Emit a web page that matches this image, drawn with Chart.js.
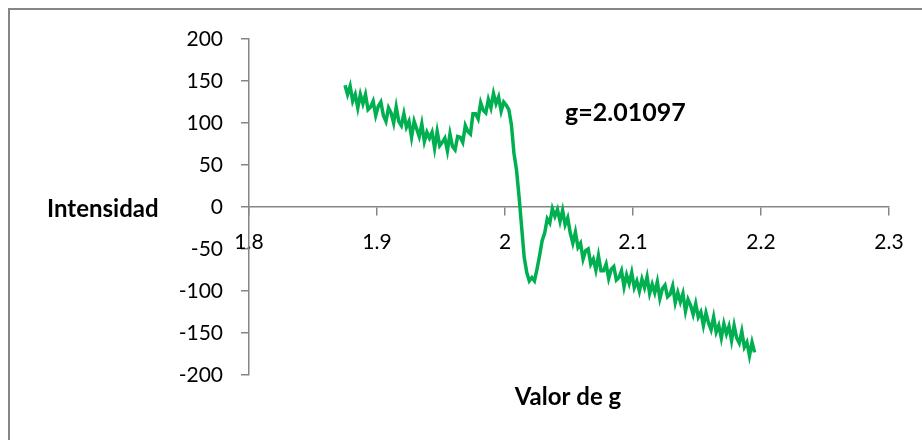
<!DOCTYPE html>
<html>
<head>
<meta charset="utf-8">
<script src="https://cdn.jsdelivr.net/npm/chart.js@4/dist/chart.umd.min.js"></script>
<style>
  html, body { margin: 0; padding: 0; background: #fff; }
  #wrap { position: relative; width: 922px; height: 440px; overflow: hidden; }
  canvas { display: block; }
</style>
</head>
<body>
<div id="wrap"><canvas id="c" width="922" height="440"></canvas></div>
<script>
// g values (x) and intensity (y)
const G_VALUES = [
  1.875, 1.877, 1.879, 1.881, 1.883, 1.885, 1.887, 1.889, 1.891, 1.893,
  1.895, 1.897, 1.899, 1.901, 1.903, 1.905, 1.907, 1.909, 1.911, 1.913,
  1.915, 1.917, 1.919, 1.921, 1.923, 1.925, 1.927, 1.929, 1.931, 1.933,
  1.935, 1.937, 1.939, 1.941, 1.943, 1.945, 1.947, 1.949, 1.951, 1.953,
  1.955, 1.957, 1.959, 1.961, 1.963, 1.965, 1.967, 1.969, 1.971, 1.973,
  1.975, 1.977, 1.979, 1.981, 1.983, 1.985, 1.987, 1.989, 1.991, 1.993,
  1.995, 1.997, 1.999,
  2.001, 2.003, 2.005, 2.007, 2.009, 2.011, 2.013, 2.015, 2.017, 2.019,
  2.021, 2.023, 2.025, 2.027, 2.029, 2.031,
  2.033, 2.035, 2.037, 2.039, 2.041, 2.043, 2.045, 2.047, 2.049, 2.051,
  2.053, 2.055, 2.057, 2.059, 2.061, 2.063, 2.065, 2.067, 2.069, 2.071,
  2.073, 2.075, 2.077, 2.079, 2.081, 2.083, 2.085, 2.087, 2.089, 2.091,
  2.093, 2.095, 2.097, 2.099, 2.101, 2.103, 2.105, 2.107, 2.109, 2.111,
  2.113, 2.115, 2.117, 2.119, 2.121, 2.123, 2.125, 2.127, 2.129, 2.131,
  2.133, 2.135, 2.137, 2.139, 2.141, 2.143, 2.145, 2.147, 2.149, 2.151,
  2.153, 2.155, 2.157, 2.159, 2.161, 2.163, 2.165, 2.167, 2.169, 2.171,
  2.173, 2.175, 2.177, 2.179, 2.181, 2.183, 2.185, 2.187, 2.189, 2.191,
  2.193, 2.195
];
const INTENSITY = [
  145, 134, 144, 126, 134, 118, 134, 123, 134, 116,
  119, 126, 109, 120, 125, 109, 102, 118, 112, 100,
  119, 102, 97, 111, 95, 102, 83, 102, 93, 84,
  99, 78, 89, 82, 89, 70, 90, 73, 77, 82,
  67, 87, 72, 68, 84, 83, 77, 97, 90, 87,
  111, 111, 105, 124, 115, 112, 128, 118, 135, 123,
  131, 114, 125,
  121, 116, 98, 64, 44, 12, -24, -60, -78, -88,
  -84, -88, -74, -58, -40, -31,
  -14, -19, -2, -11, -3, -17, -4, -21, -13, -31,
  -43, -30, -48, -43, -62, -52, -50, -68, -62, -75,
  -58, -76, -76, -68, -85, -74, -71, -87, -84, -76,
  -95, -81, -91, -78, -96, -88, -100, -86, -96, -83,
  -103, -92, -102, -89, -109, -97, -93, -107, -104, -94,
  -114, -102, -113, -103, -124, -110, -117, -128, -115, -131,
  -125, -141, -126, -138, -146, -131, -149, -141, -156, -139,
  -151, -142, -159, -141, -156, -162, -148, -167, -161, -177,
  -161, -173
];
const X_TICKS = [1.8, 1.9, 2, 2.1, 2.2, 2.3];
const Y_TICKS = [-200, -150, -100, -50, 0, 50, 100, 150, 200];

const Y_TITLE = 'Intensidad';
const X_TITLE = 'Valor de g';
const NOTE = 'g=2.01097';

const AXIS_GREY = '#868686';
const tickFont = { family: 'Lato', size: 21 };

const textPlugin = {
  id: 'texts',
  beforeDraw(chart) {
    const ctx = chart.ctx;
    ctx.save();
    ctx.strokeStyle = AXIS_GREY;
    ctx.lineWidth = 2;
    ctx.beginPath();
    ctx.moveTo(9, 440);
    ctx.lineTo(9, 9);
    ctx.lineTo(922, 9);
    ctx.stroke();
    ctx.restore();
  },
  afterDraw(chart) {
    const ctx = chart.ctx;
    ctx.save();
    ctx.fillStyle = '#000';
    ctx.textBaseline = 'middle';
    ctx.font = 'bold 24px Lato';
    ctx.textAlign = 'left';
    ctx.fillText(Y_TITLE, 47, 209);
    ctx.textAlign = 'center';
    ctx.fillText(X_TITLE, 568, 397);
    ctx.font = 'bold 25px Lato';
    ctx.textAlign = 'left';
    ctx.fillText(NOTE, 565, 113);
    ctx.restore();
  }
};

new Chart(document.getElementById('c'), {
  type: 'scatter',
  data: {
    datasets: [{
      data: G_VALUES.map((g, i) => ({ x: g, y: INTENSITY[i] })),
      showLine: true,
      borderColor: '#00b050',
      backgroundColor: '#00b050',
      borderWidth: 3.5,
      pointRadius: 0,
      tension: 0,
    }],
  },
  options: {
    responsive: false,
    animation: false,
    devicePixelRatio: 1,
    layout: { padding: { top: 39, right: 33, bottom: 65, left: 0 } },
    plugins: { legend: { display: false }, tooltip: { enabled: false } },
    scales: {
      x: {
        type: 'linear',
        position: { y: 0 },
        min: 1.8, max: 2.3,
        afterBuildTicks: (s) => { s.ticks = X_TICKS.map((v) => ({ value: v })); },
        ticks: { callback: (v) => String(v), color: '#000', font: tickFont, padding: 15, maxRotation: 0, autoSkip: false },
        grid: { drawOnChartArea: false, tickLength: 8, color: AXIS_GREY, lineWidth: 1.5 },
        border: { color: AXIS_GREY, width: 1.5 },
      },
      y: {
        position: 'left',
        min: -200, max: 200,
        afterBuildTicks: (s) => { s.ticks = Y_TICKS.map((v) => ({ value: v })); },
        afterFit: (s) => { s.width = 249; },
        ticks: { color: '#000', font: tickFont, padding: 18, autoSkip: false },
        grid: { drawOnChartArea: false, tickLength: 8, color: AXIS_GREY, lineWidth: 1.5 },
        border: { color: AXIS_GREY, width: 1.5 },
      },
    },
  },
  plugins: [textPlugin],
});
</script>
</body>
</html>
